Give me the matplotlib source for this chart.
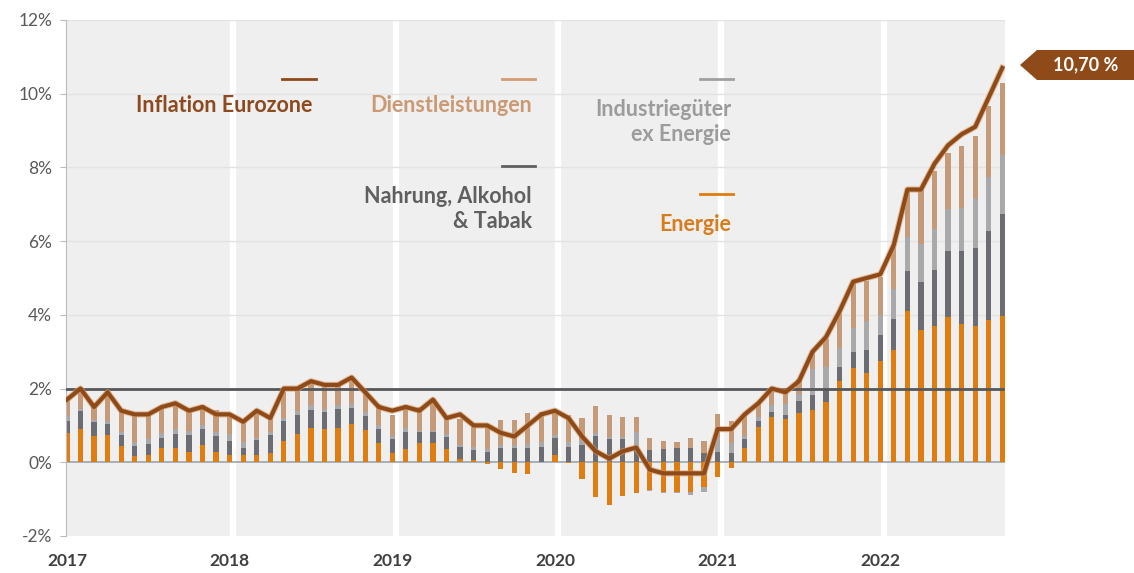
import numpy as np
import matplotlib.pyplot as plt
import matplotlib.patheffects as pe
from matplotlib.patches import Polygon

plt.rcParams['font.family'] = ['Lato', 'DejaVu Sans']

# monthly data Jan 2017 - Oct 2022
years = ['2017', '2018', '2019', '2020', '2021', '2022']

inflation = [1.7, 2.0, 1.5, 1.9, 1.4, 1.3, 1.3, 1.5, 1.6, 1.4, 1.5, 1.3,
             1.3, 1.1, 1.4, 1.2, 2.0, 2.0, 2.2, 2.1, 2.1, 2.3, 1.9, 1.5,
             1.4, 1.5, 1.4, 1.7, 1.2, 1.3, 1.0, 1.0, 0.8, 0.7, 1.0, 1.3,
             1.4, 1.2, 0.7, 0.3, 0.1, 0.3, 0.4, -0.2, -0.3, -0.3, -0.3, -0.3,
             0.9, 0.9, 1.3, 1.6, 2.0, 1.9, 2.2, 3.0, 3.4, 4.1, 4.9, 5.0,
             5.1, 5.9, 7.4, 7.4, 8.1, 8.6, 8.9, 9.1, 9.9, 10.7]

# contributions in percentage points
energie = [0.79, 0.90, 0.72, 0.74, 0.44, 0.18, 0.21, 0.39, 0.38, 0.29, 0.46, 0.28,
           0.21, 0.20, 0.19, 0.25, 0.59, 0.78, 0.92, 0.89, 0.92, 1.04, 0.88, 0.53,
           0.26, 0.35, 0.51, 0.51, 0.37, 0.09, 0.05, -0.06, -0.17, -0.30, -0.31, 0.02,
           0.19, -0.03, -0.44, -0.95, -1.17, -0.91, -0.82, -0.76, -0.80, -0.81, -0.81, -0.68,
           -0.39, -0.16, 0.40, 0.97, 1.22, 1.17, 1.33, 1.43, 1.64, 2.20, 2.56, 2.42,
           2.74, 3.04, 4.10, 3.60, 3.71, 3.95, 3.76, 3.70, 3.87, 3.98]

nahrung = [0.34, 0.50, 0.36, 0.30, 0.30, 0.26, 0.28, 0.28, 0.38, 0.46, 0.44, 0.42,
           0.38, 0.20, 0.42, 0.50, 0.52, 0.50, 0.50, 0.48, 0.52, 0.44, 0.38, 0.36,
           0.36, 0.46, 0.30, 0.30, 0.32, 0.32, 0.28, 0.28, 0.38, 0.38, 0.38, 0.40,
           0.46, 0.42, 0.48, 0.72, 0.64, 0.64, 0.40, 0.34, 0.36, 0.38, 0.38, 0.26,
           0.28, 0.26, 0.22, 0.14, 0.14, 0.10, 0.32, 0.40, 0.38, 0.38, 0.44, 0.64,
           0.70, 0.84, 1.10, 1.30, 1.50, 1.78, 1.96, 2.12, 2.40, 2.75]

industrie = [0.13, 0.05, 0.08, 0.08, 0.08, 0.11, 0.13, 0.13, 0.13, 0.11, 0.11, 0.13,
             0.19, 0.16, 0.05, 0.08, 0.08, 0.11, 0.13, 0.08, 0.11, 0.11, 0.11, 0.11,
             0.08, 0.11, 0.05, 0.05, 0.08, 0.05, 0.08, 0.08, 0.08, 0.08, 0.11, 0.13,
             0.08, 0.13, 0.13, 0.08, 0.05, 0.05, 0.42, -0.03, -0.03, -0.03, -0.08, -0.13,
             0.40, 0.26, 0.08, 0.11, 0.19, 0.32, 0.19, 0.69, 0.56, 0.53, 0.64, 0.77,
             0.56, 0.82, 0.90, 1.01, 1.11, 1.14, 1.19, 1.33, 1.46, 1.62]

dienst = [0.54, 0.59, 0.45, 0.81, 0.59, 0.72, 0.72, 0.72, 0.68, 0.54, 0.54, 0.59,
          0.54, 0.59, 0.68, 0.45, 0.72, 0.59, 0.63, 0.59, 0.59, 0.68, 0.59, 0.59,
          0.59, 0.63, 0.63, 0.86, 0.45, 0.72, 0.54, 0.59, 0.68, 0.68, 0.86, 0.81,
          0.68, 0.72, 0.59, 0.72, 0.59, 0.54, 0.41, 0.32, 0.23, 0.18, 0.27, 0.32,
          0.63, 0.59, 0.59, 0.41, 0.50, 0.32, 0.41, 0.50, 0.77, 0.95, 1.22, 1.08,
          1.04, 1.13, 1.22, 1.49, 1.58, 1.53, 1.67, 1.71, 1.94, 1.94]

c_energie = '#e07d10'
c_nahrung = '#6b6d72'
c_industrie = '#a9a9ab'
c_dienst = '#c49a78'
c_infl = '#8f4a1a'

x = np.arange(len(inflation))

W, H = 1134, 573
fig = plt.figure(figsize=(W / 100, H / 100), dpi=100)
ax = fig.add_axes([66 / W, 1 - 536 / H, (1005 - 66) / W, (536 - 20) / H])
ax.set_facecolor('#efefef')

# year separators
for k in range(1, 6):
    ax.axvline(12 * k + 0.25, color='white', lw=4.5, zorder=0.5)

for yv in [2, 4, 6, 8, 10, 12]:
    ax.axhline(yv, color='#e3e3e3', lw=1, zorder=0.6)
ax.axhline(0, color='#9aa4b0', lw=1.2, zorder=0.7)

pos = np.zeros(len(x))
neg = np.zeros(len(x))
for vals, col in [(energie, c_energie), (nahrung, c_nahrung),
                  (industrie, c_industrie), (dienst, c_dienst)]:
    v = np.array(vals)
    bottom = np.where(v >= 0, pos, neg)
    ax.bar(x, v, bottom=bottom, width=0.38, color=col, zorder=2, linewidth=0)
    pos = np.where(v >= 0, pos + v, pos)
    neg = np.where(v < 0, neg + v, neg)

ax.axhline(2, color='#55575a', lw=2, zorder=3)

ax.plot(x, inflation, color=c_infl, lw=3, zorder=4, solid_joinstyle='round',
        path_effects=[pe.Stroke(linewidth=4.5, foreground='#d99a62', alpha=0.6), pe.Normal()])

ax.set_xlim(-0.07, 69.2)
ax.set_ylim(-2, 12)
ax.set_yticks(range(-2, 13, 2))
ax.set_yticklabels([f'{v}%' for v in range(-2, 13, 2)], fontsize=12.5, color='#595959')
ax.set_xticks(range(0, 72, 12))
ax.set_xticklabels(years, fontsize=12.5, color='#404040', fontweight='bold')
ax.tick_params(axis='x', length=0, pad=12)
ax.tick_params(axis='y', length=4, color='#bbbbbb', pad=6)
for s in ['top', 'right', 'bottom']:
    ax.spines[s].set_visible(False)
ax.spines['left'].set_color('#bbbbbb')

# legend entries placed inside the plot
legend = [
    ('Inflation Eurozone', 18.1, 9.67, 15.9, 18.4, 10.4, '#8c4a1e', c_infl),
    ('Dienstleistungen', 34.3, 9.67, 32.1, 34.5, 10.4, '#c99a74', '#d49c70'),
    ('Industriegüter\nex Energie', 49.0, 9.23, 46.7, 49.1, 10.4, '#9c9c9c', '#a0a0a0'),
    ('Nahrung, Alkohol\n& Tabak', 34.3, 6.88, 32.1, 34.5, 8.04, '#5f5f5f', '#5f5f5f'),
    ('Energie', 49.0, 6.44, 46.7, 49.1, 7.28, '#d67d1e', c_energie),
]
for label, tx, ty, x0, x1, ly, tcol, lcol in legend:
    ax.plot([x0, x1], [ly, ly], color=lcol, lw=2, zorder=5)
    ax.text(tx, ty, label, ha='right', va='center', fontsize=15.5, fontweight='bold',
            color=tcol, linespacing=1.25, zorder=5)

# tag with latest value, pointing at the line end
tag = [(1020, 65), (1037, 50), (1134, 50), (1134, 80), (1037, 80)]
fig.patches.append(Polygon([(px / W, 1 - py / H) for px, py in tag], closed=True,
                           transform=fig.transFigure, fc=c_infl, ec='none'))
fig.text(1086 / W, 1 - 65 / H, f'{inflation[-1]:.2f} %'.replace('.', ','),
         ha='center', va='center', fontsize=13, fontweight='bold', color='white')

fig.savefig('out.png', dpi=100)
